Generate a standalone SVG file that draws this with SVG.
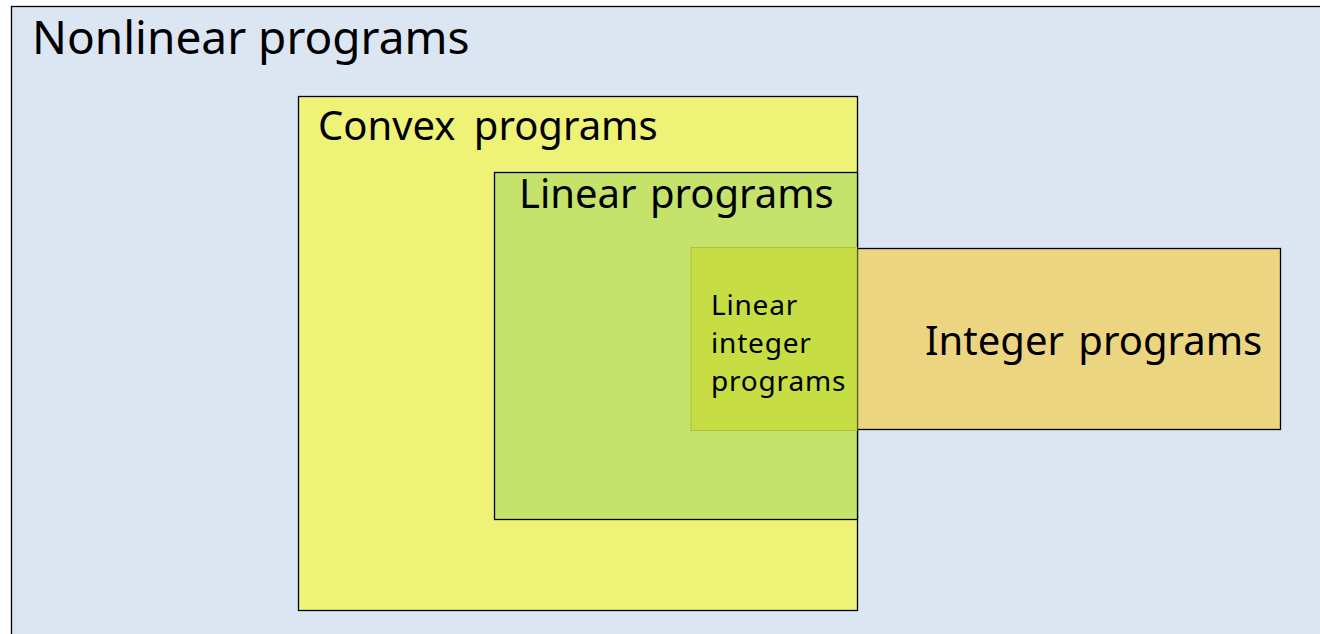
<svg xmlns="http://www.w3.org/2000/svg" width="1320" height="634" viewBox="0 0 1320 634">
<style>
.t{font-family:"Noto Sans","Open Sans",sans-serif;fill:#000}
.b{stroke:#000;stroke-width:1.3}
</style>
<rect width="1320" height="634" fill="#fff"/>
<g id="nonlinear">
<rect x="11.5" y="6.5" width="1320" height="640" fill="#dce6f2" class="b"/>
<text class="t" x="32" y="54" font-size="46">Nonlinear programs</text>
</g>
<g id="convex">
<rect x="298.5" y="96.5" width="559" height="514" fill="#eef277" class="b"/>
<text class="t" x="318" y="140" font-size="40" word-spacing="8">Convex programs</text>
</g>
<g id="linear">
<rect x="494.5" y="172.5" width="363" height="347" fill="#c5e26b" class="b"/>
<text class="t" x="519" y="208" font-size="40" word-spacing="3">Linear programs</text>
</g>
<g id="integer">
<rect x="857.5" y="248.5" width="423" height="181" fill="#ecd580" class="b"/>
<text class="t" x="925" y="355" font-size="40" word-spacing="4">Integer programs</text>
</g>
<g id="linear-integer">
<rect x="691" y="247.5" width="166" height="183" fill="#c6dd44" stroke="#a9c240" stroke-width="1"/>
<text class="t" x="711" y="315" font-size="28" letter-spacing="0.8">Linear</text>
<text class="t" x="711" y="353" font-size="28" letter-spacing="0.8">integer</text>
<text class="t" x="711" y="391" font-size="28" letter-spacing="0.8">programs</text>
</g>
<g id="connectors"/>
</svg>
